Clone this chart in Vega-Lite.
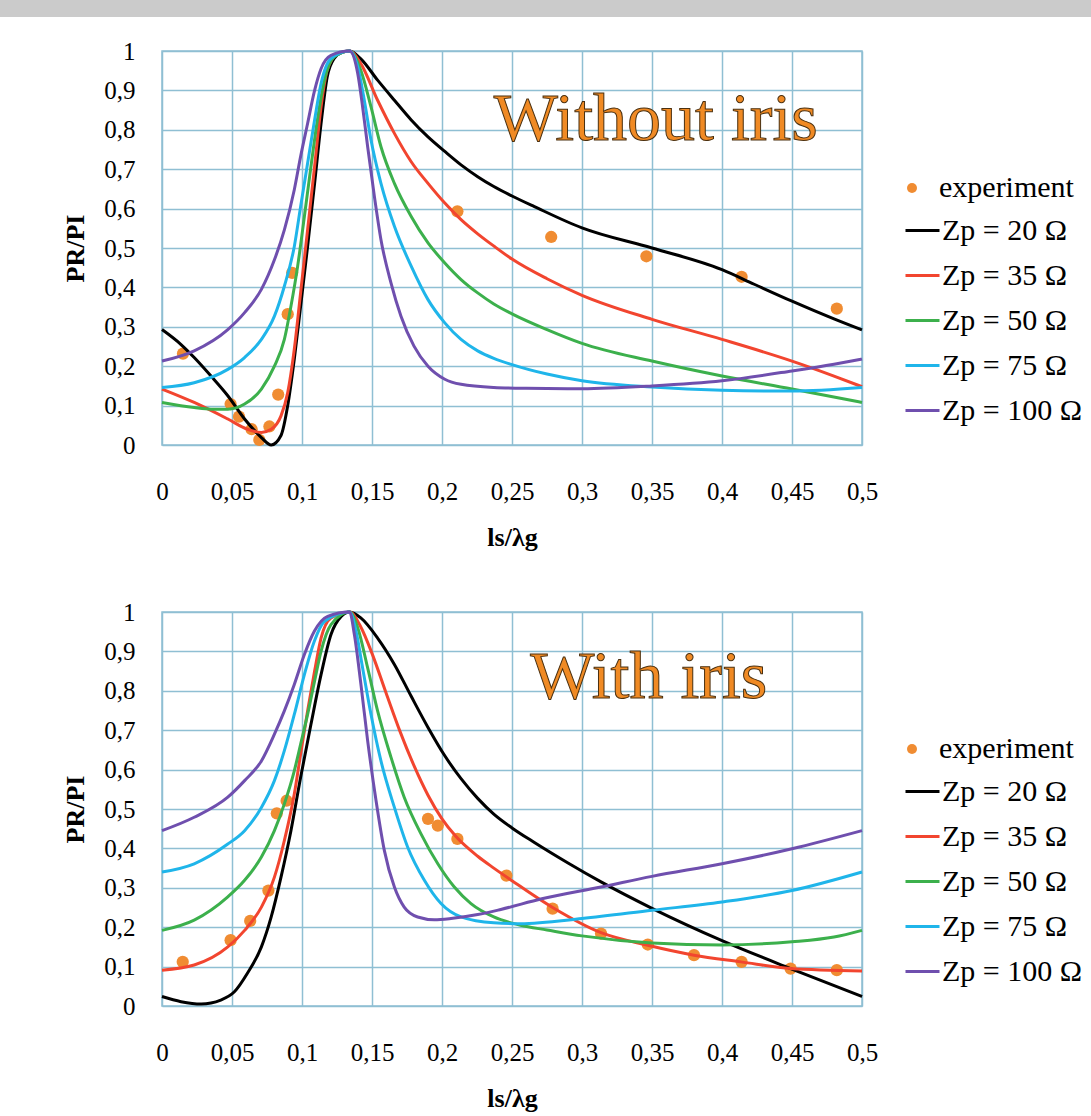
{
  "$schema": "https://vega.github.io/schema/vega-lite/v6.json",
  "padding": 0,
  "background": "white",
  "config": {
    "font": "Liberation Serif",
    "view": {"stroke": "#8fbfd3", "strokeWidth": 1.5},
    "axis": {"domain": false, "ticks": false, "grid": true, "gridColor": "#8fbfd3", "gridWidth": 1.5, "gridOpacity": 1, "labelFont": "Liberation Serif", "labelFontSize": 25, "labelColor": "#000000", "titleFont": "Liberation Serif", "titleFontSize": 26, "titleFontWeight": "bold", "titleColor": "#000000"},
    "legend": {"labelFont": "Liberation Serif", "labelFontSize": 30, "labelColor": "#000000", "padding": 0, "offset": 0}
  },
  "datasets": {
    "topExp": [
      {"x": 0.015, "y": 0.232}, {"x": 0.049, "y": 0.104}, {"x": 0.055, "y": 0.072}, {"x": 0.064, "y": 0.04}, {"x": 0.0695, "y": 0.013}, {"x": 0.0767, "y": 0.047}, {"x": 0.083, "y": 0.128}, {"x": 0.0898, "y": 0.332}, {"x": 0.093, "y": 0.437}, {"x": 0.211, "y": 0.593}, {"x": 0.278, "y": 0.528}, {"x": 0.346, "y": 0.479}, {"x": 0.414, "y": 0.427}, {"x": 0.482, "y": 0.346}
    ],
    "botExp": [
      {"x": 0.0148, "y": 0.112}, {"x": 0.049, "y": 0.167}, {"x": 0.063, "y": 0.216}, {"x": 0.076, "y": 0.293}, {"x": 0.082, "y": 0.489}, {"x": 0.089, "y": 0.521}, {"x": 0.19, "y": 0.475}, {"x": 0.197, "y": 0.458}, {"x": 0.211, "y": 0.424}, {"x": 0.246, "y": 0.331}, {"x": 0.279, "y": 0.247}, {"x": 0.3136, "y": 0.184}, {"x": 0.347, "y": 0.156}, {"x": 0.38, "y": 0.129}, {"x": 0.414, "y": 0.112}, {"x": 0.449, "y": 0.095}, {"x": 0.482, "y": 0.091}
    ],
    "topLines": [
      {"s": "Zp = 20 Ω", "x": 0, "y": 0.293}, {"s": "Zp = 20 Ω", "x": 0.0136, "y": 0.255}, {"s": "Zp = 20 Ω", "x": 0.023, "y": 0.222}, {"s": "Zp = 20 Ω", "x": 0.035, "y": 0.175}, {"s": "Zp = 20 Ω", "x": 0.047, "y": 0.125}, {"s": "Zp = 20 Ω", "x": 0.059, "y": 0.066}, {"s": "Zp = 20 Ω", "x": 0.071, "y": 0.019}, {"s": "Zp = 20 Ω", "x": 0.078, "y": 0.0}, {"s": "Zp = 20 Ω", "x": 0.085, "y": 0.024}, {"s": "Zp = 20 Ω", "x": 0.0898, "y": 0.1}, {"s": "Zp = 20 Ω", "x": 0.0945, "y": 0.218}, {"s": "Zp = 20 Ω", "x": 0.099, "y": 0.352}, {"s": "Zp = 20 Ω", "x": 0.104, "y": 0.504}, {"s": "Zp = 20 Ω", "x": 0.109, "y": 0.664}, {"s": "Zp = 20 Ω", "x": 0.1136, "y": 0.816}, {"s": "Zp = 20 Ω", "x": 0.118, "y": 0.934}, {"s": "Zp = 20 Ω", "x": 0.123, "y": 0.981}, {"s": "Zp = 20 Ω", "x": 0.129, "y": 0.997}, {"s": "Zp = 20 Ω", "x": 0.134, "y": 1.0}, {"s": "Zp = 20 Ω", "x": 0.142, "y": 0.98}, {"s": "Zp = 20 Ω", "x": 0.154, "y": 0.926}, {"s": "Zp = 20 Ω", "x": 0.166, "y": 0.875}, {"s": "Zp = 20 Ω", "x": 0.178, "y": 0.825}, {"s": "Zp = 20 Ω", "x": 0.19, "y": 0.782}, {"s": "Zp = 20 Ω", "x": 0.202, "y": 0.745}, {"s": "Zp = 20 Ω", "x": 0.2136, "y": 0.711}, {"s": "Zp = 20 Ω", "x": 0.2255, "y": 0.681}, {"s": "Zp = 20 Ω", "x": 0.237, "y": 0.656}, {"s": "Zp = 20 Ω", "x": 0.25, "y": 0.632}, {"s": "Zp = 20 Ω", "x": 0.266, "y": 0.605}, {"s": "Zp = 20 Ω", "x": 0.3, "y": 0.551}, {"s": "Zp = 20 Ω", "x": 0.35, "y": 0.5}, {"s": "Zp = 20 Ω", "x": 0.4, "y": 0.445}, {"s": "Zp = 20 Ω", "x": 0.423, "y": 0.408}, {"s": "Zp = 20 Ω", "x": 0.45, "y": 0.365}, {"s": "Zp = 20 Ω", "x": 0.48, "y": 0.32}, {"s": "Zp = 20 Ω", "x": 0.5, "y": 0.292},
      {"s": "Zp = 35 Ω", "x": 0, "y": 0.142}, {"s": "Zp = 35 Ω", "x": 0.023, "y": 0.108}, {"s": "Zp = 35 Ω", "x": 0.047, "y": 0.066}, {"s": "Zp = 35 Ω", "x": 0.061, "y": 0.04}, {"s": "Zp = 35 Ω", "x": 0.071, "y": 0.032}, {"s": "Zp = 35 Ω", "x": 0.078, "y": 0.04}, {"s": "Zp = 35 Ω", "x": 0.085, "y": 0.074}, {"s": "Zp = 35 Ω", "x": 0.0898, "y": 0.133}, {"s": "Zp = 35 Ω", "x": 0.0945, "y": 0.243}, {"s": "Zp = 35 Ω", "x": 0.099, "y": 0.386}, {"s": "Zp = 35 Ω", "x": 0.104, "y": 0.546}, {"s": "Zp = 35 Ω", "x": 0.109, "y": 0.707}, {"s": "Zp = 35 Ω", "x": 0.1136, "y": 0.858}, {"s": "Zp = 35 Ω", "x": 0.118, "y": 0.951}, {"s": "Zp = 35 Ω", "x": 0.1255, "y": 0.993}, {"s": "Zp = 35 Ω", "x": 0.134, "y": 1.0}, {"s": "Zp = 35 Ω", "x": 0.142, "y": 0.968}, {"s": "Zp = 35 Ω", "x": 0.154, "y": 0.875}, {"s": "Zp = 35 Ω", "x": 0.166, "y": 0.791}, {"s": "Zp = 35 Ω", "x": 0.178, "y": 0.719}, {"s": "Zp = 35 Ω", "x": 0.19, "y": 0.664}, {"s": "Zp = 35 Ω", "x": 0.202, "y": 0.614}, {"s": "Zp = 35 Ω", "x": 0.2136, "y": 0.572}, {"s": "Zp = 35 Ω", "x": 0.2255, "y": 0.536}, {"s": "Zp = 35 Ω", "x": 0.237, "y": 0.505}, {"s": "Zp = 35 Ω", "x": 0.25, "y": 0.472}, {"s": "Zp = 35 Ω", "x": 0.275, "y": 0.422}, {"s": "Zp = 35 Ω", "x": 0.3, "y": 0.38}, {"s": "Zp = 35 Ω", "x": 0.35, "y": 0.319}, {"s": "Zp = 35 Ω", "x": 0.4, "y": 0.268}, {"s": "Zp = 35 Ω", "x": 0.45, "y": 0.213}, {"s": "Zp = 35 Ω", "x": 0.48, "y": 0.175}, {"s": "Zp = 35 Ω", "x": 0.5, "y": 0.148},
      {"s": "Zp = 50 Ω", "x": 0, "y": 0.108}, {"s": "Zp = 50 Ω", "x": 0.023, "y": 0.095}, {"s": "Zp = 50 Ω", "x": 0.035, "y": 0.091}, {"s": "Zp = 50 Ω", "x": 0.047, "y": 0.091}, {"s": "Zp = 50 Ω", "x": 0.059, "y": 0.104}, {"s": "Zp = 50 Ω", "x": 0.071, "y": 0.142}, {"s": "Zp = 50 Ω", "x": 0.0803, "y": 0.2}, {"s": "Zp = 50 Ω", "x": 0.0874, "y": 0.268}, {"s": "Zp = 50 Ω", "x": 0.0921, "y": 0.352}, {"s": "Zp = 50 Ω", "x": 0.0969, "y": 0.454}, {"s": "Zp = 50 Ω", "x": 0.1017, "y": 0.58}, {"s": "Zp = 50 Ω", "x": 0.1064, "y": 0.707}, {"s": "Zp = 50 Ω", "x": 0.111, "y": 0.825}, {"s": "Zp = 50 Ω", "x": 0.116, "y": 0.926}, {"s": "Zp = 50 Ω", "x": 0.123, "y": 0.985}, {"s": "Zp = 50 Ω", "x": 0.134, "y": 1.0}, {"s": "Zp = 50 Ω", "x": 0.142, "y": 0.951}, {"s": "Zp = 50 Ω", "x": 0.1493, "y": 0.858}, {"s": "Zp = 50 Ω", "x": 0.1564, "y": 0.757}, {"s": "Zp = 50 Ω", "x": 0.166, "y": 0.664}, {"s": "Zp = 50 Ω", "x": 0.178, "y": 0.58}, {"s": "Zp = 50 Ω", "x": 0.19, "y": 0.513}, {"s": "Zp = 50 Ω", "x": 0.202, "y": 0.462}, {"s": "Zp = 50 Ω", "x": 0.2136, "y": 0.42}, {"s": "Zp = 50 Ω", "x": 0.2255, "y": 0.386}, {"s": "Zp = 50 Ω", "x": 0.237, "y": 0.358}, {"s": "Zp = 50 Ω", "x": 0.25, "y": 0.333}, {"s": "Zp = 50 Ω", "x": 0.275, "y": 0.293}, {"s": "Zp = 50 Ω", "x": 0.3, "y": 0.258}, {"s": "Zp = 50 Ω", "x": 0.35, "y": 0.213}, {"s": "Zp = 50 Ω", "x": 0.4, "y": 0.175}, {"s": "Zp = 50 Ω", "x": 0.45, "y": 0.142}, {"s": "Zp = 50 Ω", "x": 0.5, "y": 0.108},
      {"s": "Zp = 75 Ω", "x": 0, "y": 0.146}, {"s": "Zp = 75 Ω", "x": 0.023, "y": 0.158}, {"s": "Zp = 75 Ω", "x": 0.047, "y": 0.192}, {"s": "Zp = 75 Ω", "x": 0.059, "y": 0.222}, {"s": "Zp = 75 Ω", "x": 0.071, "y": 0.268}, {"s": "Zp = 75 Ω", "x": 0.0803, "y": 0.327}, {"s": "Zp = 75 Ω", "x": 0.0874, "y": 0.403}, {"s": "Zp = 75 Ω", "x": 0.0945, "y": 0.504}, {"s": "Zp = 75 Ω", "x": 0.099, "y": 0.605}, {"s": "Zp = 75 Ω", "x": 0.104, "y": 0.715}, {"s": "Zp = 75 Ω", "x": 0.109, "y": 0.825}, {"s": "Zp = 75 Ω", "x": 0.1136, "y": 0.917}, {"s": "Zp = 75 Ω", "x": 0.1207, "y": 0.981}, {"s": "Zp = 75 Ω", "x": 0.134, "y": 1.0}, {"s": "Zp = 75 Ω", "x": 0.1398, "y": 0.96}, {"s": "Zp = 75 Ω", "x": 0.1445, "y": 0.875}, {"s": "Zp = 75 Ω", "x": 0.1493, "y": 0.774}, {"s": "Zp = 75 Ω", "x": 0.1564, "y": 0.664}, {"s": "Zp = 75 Ω", "x": 0.166, "y": 0.555}, {"s": "Zp = 75 Ω", "x": 0.178, "y": 0.454}, {"s": "Zp = 75 Ω", "x": 0.19, "y": 0.369}, {"s": "Zp = 75 Ω", "x": 0.202, "y": 0.31}, {"s": "Zp = 75 Ω", "x": 0.2136, "y": 0.268}, {"s": "Zp = 75 Ω", "x": 0.2255, "y": 0.239}, {"s": "Zp = 75 Ω", "x": 0.237, "y": 0.22}, {"s": "Zp = 75 Ω", "x": 0.25, "y": 0.204}, {"s": "Zp = 75 Ω", "x": 0.275, "y": 0.18}, {"s": "Zp = 75 Ω", "x": 0.3, "y": 0.163}, {"s": "Zp = 75 Ω", "x": 0.35, "y": 0.147}, {"s": "Zp = 75 Ω", "x": 0.4, "y": 0.139}, {"s": "Zp = 75 Ω", "x": 0.45, "y": 0.137}, {"s": "Zp = 75 Ω", "x": 0.5, "y": 0.146},
      {"s": "Zp = 100 Ω", "x": 0, "y": 0.213}, {"s": "Zp = 100 Ω", "x": 0.023, "y": 0.239}, {"s": "Zp = 100 Ω", "x": 0.047, "y": 0.293}, {"s": "Zp = 100 Ω", "x": 0.059, "y": 0.336}, {"s": "Zp = 100 Ω", "x": 0.071, "y": 0.395}, {"s": "Zp = 100 Ω", "x": 0.0803, "y": 0.47}, {"s": "Zp = 100 Ω", "x": 0.0874, "y": 0.546}, {"s": "Zp = 100 Ω", "x": 0.0945, "y": 0.648}, {"s": "Zp = 100 Ω", "x": 0.099, "y": 0.732}, {"s": "Zp = 100 Ω", "x": 0.104, "y": 0.816}, {"s": "Zp = 100 Ω", "x": 0.109, "y": 0.9}, {"s": "Zp = 100 Ω", "x": 0.1136, "y": 0.955}, {"s": "Zp = 100 Ω", "x": 0.1207, "y": 0.989}, {"s": "Zp = 100 Ω", "x": 0.134, "y": 1.0}, {"s": "Zp = 100 Ω", "x": 0.1398, "y": 0.943}, {"s": "Zp = 100 Ω", "x": 0.1433, "y": 0.858}, {"s": "Zp = 100 Ω", "x": 0.1469, "y": 0.757}, {"s": "Zp = 100 Ω", "x": 0.1517, "y": 0.631}, {"s": "Zp = 100 Ω", "x": 0.1564, "y": 0.521}, {"s": "Zp = 100 Ω", "x": 0.1636, "y": 0.411}, {"s": "Zp = 100 Ω", "x": 0.1707, "y": 0.327}, {"s": "Zp = 100 Ω", "x": 0.18, "y": 0.251}, {"s": "Zp = 100 Ω", "x": 0.19, "y": 0.2}, {"s": "Zp = 100 Ω", "x": 0.202, "y": 0.167}, {"s": "Zp = 100 Ω", "x": 0.2136, "y": 0.154}, {"s": "Zp = 100 Ω", "x": 0.237, "y": 0.146}, {"s": "Zp = 100 Ω", "x": 0.26, "y": 0.144}, {"s": "Zp = 100 Ω", "x": 0.3, "y": 0.143}, {"s": "Zp = 100 Ω", "x": 0.35, "y": 0.15}, {"s": "Zp = 100 Ω", "x": 0.4, "y": 0.163}, {"s": "Zp = 100 Ω", "x": 0.45, "y": 0.188}, {"s": "Zp = 100 Ω", "x": 0.48, "y": 0.205}, {"s": "Zp = 100 Ω", "x": 0.5, "y": 0.218}
    ],
    "botLines": [
      {"s": "Zp = 20 Ω", "x": 0, "y": 0.024}, {"s": "Zp = 20 Ω", "x": 0.0136, "y": 0.011}, {"s": "Zp = 20 Ω", "x": 0.028, "y": 0.005}, {"s": "Zp = 20 Ω", "x": 0.042, "y": 0.015}, {"s": "Zp = 20 Ω", "x": 0.0517, "y": 0.036}, {"s": "Zp = 20 Ω", "x": 0.061, "y": 0.083}, {"s": "Zp = 20 Ω", "x": 0.071, "y": 0.15}, {"s": "Zp = 20 Ω", "x": 0.078, "y": 0.226}, {"s": "Zp = 20 Ω", "x": 0.085, "y": 0.327}, {"s": "Zp = 20 Ω", "x": 0.0921, "y": 0.445}, {"s": "Zp = 20 Ω", "x": 0.099, "y": 0.58}, {"s": "Zp = 20 Ω", "x": 0.1064, "y": 0.715}, {"s": "Zp = 20 Ω", "x": 0.1136, "y": 0.841}, {"s": "Zp = 20 Ω", "x": 0.1207, "y": 0.943}, {"s": "Zp = 20 Ω", "x": 0.128, "y": 0.989}, {"s": "Zp = 20 Ω", "x": 0.134, "y": 1.0}, {"s": "Zp = 20 Ω", "x": 0.142, "y": 0.985}, {"s": "Zp = 20 Ω", "x": 0.154, "y": 0.934}, {"s": "Zp = 20 Ω", "x": 0.166, "y": 0.867}, {"s": "Zp = 20 Ω", "x": 0.178, "y": 0.786}, {"s": "Zp = 20 Ω", "x": 0.19, "y": 0.707}, {"s": "Zp = 20 Ω", "x": 0.202, "y": 0.635}, {"s": "Zp = 20 Ω", "x": 0.2136, "y": 0.577}, {"s": "Zp = 20 Ω", "x": 0.2255, "y": 0.527}, {"s": "Zp = 20 Ω", "x": 0.237, "y": 0.487}, {"s": "Zp = 20 Ω", "x": 0.25, "y": 0.452}, {"s": "Zp = 20 Ω", "x": 0.266, "y": 0.415}, {"s": "Zp = 20 Ω", "x": 0.29, "y": 0.363}, {"s": "Zp = 20 Ω", "x": 0.3136, "y": 0.315}, {"s": "Zp = 20 Ω", "x": 0.35, "y": 0.248}, {"s": "Zp = 20 Ω", "x": 0.4, "y": 0.166}, {"s": "Zp = 20 Ω", "x": 0.449, "y": 0.095}, {"s": "Zp = 20 Ω", "x": 0.5, "y": 0.024},
      {"s": "Zp = 35 Ω", "x": 0, "y": 0.091}, {"s": "Zp = 35 Ω", "x": 0.023, "y": 0.104}, {"s": "Zp = 35 Ω", "x": 0.047, "y": 0.15}, {"s": "Zp = 35 Ω", "x": 0.059, "y": 0.192}, {"s": "Zp = 35 Ω", "x": 0.071, "y": 0.251}, {"s": "Zp = 35 Ω", "x": 0.0803, "y": 0.327}, {"s": "Zp = 35 Ω", "x": 0.0874, "y": 0.42}, {"s": "Zp = 35 Ω", "x": 0.0945, "y": 0.538}, {"s": "Zp = 35 Ω", "x": 0.099, "y": 0.639}, {"s": "Zp = 35 Ω", "x": 0.104, "y": 0.749}, {"s": "Zp = 35 Ω", "x": 0.109, "y": 0.85}, {"s": "Zp = 35 Ω", "x": 0.1136, "y": 0.934}, {"s": "Zp = 35 Ω", "x": 0.1207, "y": 0.985}, {"s": "Zp = 35 Ω", "x": 0.134, "y": 1.0}, {"s": "Zp = 35 Ω", "x": 0.142, "y": 0.962}, {"s": "Zp = 35 Ω", "x": 0.15, "y": 0.895}, {"s": "Zp = 35 Ω", "x": 0.16, "y": 0.795}, {"s": "Zp = 35 Ω", "x": 0.17, "y": 0.697}, {"s": "Zp = 35 Ω", "x": 0.18, "y": 0.61}, {"s": "Zp = 35 Ω", "x": 0.19, "y": 0.535}, {"s": "Zp = 35 Ω", "x": 0.2, "y": 0.475}, {"s": "Zp = 35 Ω", "x": 0.21, "y": 0.43}, {"s": "Zp = 35 Ω", "x": 0.2255, "y": 0.38}, {"s": "Zp = 35 Ω", "x": 0.237, "y": 0.35}, {"s": "Zp = 35 Ω", "x": 0.25, "y": 0.318}, {"s": "Zp = 35 Ω", "x": 0.279, "y": 0.25}, {"s": "Zp = 35 Ω", "x": 0.3136, "y": 0.186}, {"s": "Zp = 35 Ω", "x": 0.347, "y": 0.154}, {"s": "Zp = 35 Ω", "x": 0.38, "y": 0.129}, {"s": "Zp = 35 Ω", "x": 0.4136, "y": 0.112}, {"s": "Zp = 35 Ω", "x": 0.449, "y": 0.095}, {"s": "Zp = 35 Ω", "x": 0.5, "y": 0.089},
      {"s": "Zp = 50 Ω", "x": 0, "y": 0.192}, {"s": "Zp = 50 Ω", "x": 0.023, "y": 0.218}, {"s": "Zp = 50 Ω", "x": 0.047, "y": 0.277}, {"s": "Zp = 50 Ω", "x": 0.059, "y": 0.319}, {"s": "Zp = 50 Ω", "x": 0.071, "y": 0.378}, {"s": "Zp = 50 Ω", "x": 0.0803, "y": 0.445}, {"s": "Zp = 50 Ω", "x": 0.0874, "y": 0.513}, {"s": "Zp = 50 Ω", "x": 0.0945, "y": 0.597}, {"s": "Zp = 50 Ω", "x": 0.099, "y": 0.664}, {"s": "Zp = 50 Ω", "x": 0.104, "y": 0.74}, {"s": "Zp = 50 Ω", "x": 0.109, "y": 0.825}, {"s": "Zp = 50 Ω", "x": 0.1136, "y": 0.9}, {"s": "Zp = 50 Ω", "x": 0.1207, "y": 0.968}, {"s": "Zp = 50 Ω", "x": 0.134, "y": 1.0}, {"s": "Zp = 50 Ω", "x": 0.1398, "y": 0.96}, {"s": "Zp = 50 Ω", "x": 0.1469, "y": 0.858}, {"s": "Zp = 50 Ω", "x": 0.154, "y": 0.749}, {"s": "Zp = 50 Ω", "x": 0.1636, "y": 0.631}, {"s": "Zp = 50 Ω", "x": 0.173, "y": 0.53}, {"s": "Zp = 50 Ω", "x": 0.185, "y": 0.437}, {"s": "Zp = 50 Ω", "x": 0.197, "y": 0.361}, {"s": "Zp = 50 Ω", "x": 0.2088, "y": 0.302}, {"s": "Zp = 50 Ω", "x": 0.2207, "y": 0.26}, {"s": "Zp = 50 Ω", "x": 0.237, "y": 0.226}, {"s": "Zp = 50 Ω", "x": 0.256, "y": 0.205}, {"s": "Zp = 50 Ω", "x": 0.275, "y": 0.193}, {"s": "Zp = 50 Ω", "x": 0.3, "y": 0.178}, {"s": "Zp = 50 Ω", "x": 0.35, "y": 0.16}, {"s": "Zp = 50 Ω", "x": 0.4, "y": 0.155}, {"s": "Zp = 50 Ω", "x": 0.45, "y": 0.163}, {"s": "Zp = 50 Ω", "x": 0.48, "y": 0.175}, {"s": "Zp = 50 Ω", "x": 0.5, "y": 0.192},
      {"s": "Zp = 75 Ω", "x": 0, "y": 0.34}, {"s": "Zp = 75 Ω", "x": 0.023, "y": 0.361}, {"s": "Zp = 75 Ω", "x": 0.047, "y": 0.411}, {"s": "Zp = 75 Ω", "x": 0.059, "y": 0.445}, {"s": "Zp = 75 Ω", "x": 0.071, "y": 0.504}, {"s": "Zp = 75 Ω", "x": 0.0803, "y": 0.572}, {"s": "Zp = 75 Ω", "x": 0.0874, "y": 0.648}, {"s": "Zp = 75 Ω", "x": 0.0945, "y": 0.74}, {"s": "Zp = 75 Ω", "x": 0.1017, "y": 0.841}, {"s": "Zp = 75 Ω", "x": 0.1088, "y": 0.926}, {"s": "Zp = 75 Ω", "x": 0.116, "y": 0.976}, {"s": "Zp = 75 Ω", "x": 0.134, "y": 1.0}, {"s": "Zp = 75 Ω", "x": 0.1386, "y": 0.951}, {"s": "Zp = 75 Ω", "x": 0.1433, "y": 0.858}, {"s": "Zp = 75 Ω", "x": 0.1493, "y": 0.74}, {"s": "Zp = 75 Ω", "x": 0.1564, "y": 0.622}, {"s": "Zp = 75 Ω", "x": 0.166, "y": 0.504}, {"s": "Zp = 75 Ω", "x": 0.1755, "y": 0.403}, {"s": "Zp = 75 Ω", "x": 0.1874, "y": 0.319}, {"s": "Zp = 75 Ω", "x": 0.1993, "y": 0.26}, {"s": "Zp = 75 Ω", "x": 0.2136, "y": 0.226}, {"s": "Zp = 75 Ω", "x": 0.237, "y": 0.211}, {"s": "Zp = 75 Ω", "x": 0.256, "y": 0.209}, {"s": "Zp = 75 Ω", "x": 0.3, "y": 0.222}, {"s": "Zp = 75 Ω", "x": 0.35, "y": 0.243}, {"s": "Zp = 75 Ω", "x": 0.4, "y": 0.264}, {"s": "Zp = 75 Ω", "x": 0.45, "y": 0.293}, {"s": "Zp = 75 Ω", "x": 0.5, "y": 0.34},
      {"s": "Zp = 100 Ω", "x": 0, "y": 0.445}, {"s": "Zp = 100 Ω", "x": 0.023, "y": 0.479}, {"s": "Zp = 100 Ω", "x": 0.047, "y": 0.53}, {"s": "Zp = 100 Ω", "x": 0.059, "y": 0.572}, {"s": "Zp = 100 Ω", "x": 0.071, "y": 0.622}, {"s": "Zp = 100 Ω", "x": 0.0803, "y": 0.69}, {"s": "Zp = 100 Ω", "x": 0.0874, "y": 0.749}, {"s": "Zp = 100 Ω", "x": 0.0945, "y": 0.816}, {"s": "Zp = 100 Ω", "x": 0.1017, "y": 0.892}, {"s": "Zp = 100 Ω", "x": 0.1088, "y": 0.951}, {"s": "Zp = 100 Ω", "x": 0.1183, "y": 0.989}, {"s": "Zp = 100 Ω", "x": 0.134, "y": 1.0}, {"s": "Zp = 100 Ω", "x": 0.1374, "y": 0.943}, {"s": "Zp = 100 Ω", "x": 0.1421, "y": 0.816}, {"s": "Zp = 100 Ω", "x": 0.1469, "y": 0.673}, {"s": "Zp = 100 Ω", "x": 0.1529, "y": 0.521}, {"s": "Zp = 100 Ω", "x": 0.1588, "y": 0.395}, {"s": "Zp = 100 Ω", "x": 0.166, "y": 0.302}, {"s": "Zp = 100 Ω", "x": 0.173, "y": 0.251}, {"s": "Zp = 100 Ω", "x": 0.1826, "y": 0.226}, {"s": "Zp = 100 Ω", "x": 0.1945, "y": 0.219}, {"s": "Zp = 100 Ω", "x": 0.2064, "y": 0.222}, {"s": "Zp = 100 Ω", "x": 0.2255, "y": 0.232}, {"s": "Zp = 100 Ω", "x": 0.242, "y": 0.245}, {"s": "Zp = 100 Ω", "x": 0.2713, "y": 0.272}, {"s": "Zp = 100 Ω", "x": 0.3136, "y": 0.302}, {"s": "Zp = 100 Ω", "x": 0.35, "y": 0.329}, {"s": "Zp = 100 Ω", "x": 0.4, "y": 0.361}, {"s": "Zp = 100 Ω", "x": 0.45, "y": 0.399}, {"s": "Zp = 100 Ω", "x": 0.5, "y": 0.445}
    ]
  },
  "spacing": 21,
  "vconcat": [
    {
      "width": 1091, "height": 17,
      "view": {"fill": "#cbcbcb", "stroke": null},
      "data": {"values": [{"t": ""}]},
      "mark": {"type": "text"},
      "encoding": {"text": {"field": "t"}}
    },
    {
      "spacing": 0,
      "hconcat": [
        {
          "width": 62, "height": 10,
          "view": {"stroke": null},
          "data": {"values": [{"t": ""}]},
          "mark": {"type": "text"},
          "encoding": {"text": {"field": "t"}}
        },
        {
          "spacing": 48,
          "resolve": {"scale": {"color": "independent", "fill": "independent"}, "legend": {"color": "independent", "fill": "independent"}},
          "vconcat": [
            {
              "width": 700, "height": 394,
              "encoding": {
                "x": {"field": "x", "type": "quantitative", "scale": {"domain": [0, 0.5], "nice": false, "zero": false}, "axis": {"values": [0, 0.05, 0.1, 0.15, 0.2, 0.25, 0.3, 0.35, 0.4, 0.45, 0.5], "labelExpr": "replace(format(datum.value, '~g'), '.', ',')", "labelFlush": false, "labelOverlap": false, "labelPadding": 34, "title": "ls/λg", "titlePadding": 20}},
                "y": {"field": "y", "type": "quantitative", "scale": {"domain": [0, 1], "nice": false}, "axis": {"values": [0, 0.1, 0.2, 0.3, 0.4, 0.5, 0.6, 0.7, 0.8, 0.9, 1], "labelExpr": "replace(format(datum.value, '~g'), '.', ',')", "labelPadding": 27, "title": "PR/PI", "titlePadding": 15}}
              },
              "layer": [
                {
                  "data": {"name": "topExp"},
                  "mark": {"type": "point", "filled": true, "shape": "circle", "size": 150, "opacity": 1},
                  "encoding": {"fill": {"datum": "experiment", "type": "nominal", "scale": {"domain": ["experiment"], "range": ["#f08c32"]}, "legend": {"orient": "none", "legendX": 735, "legendY": 122, "title": null, "symbolSize": 100, "symbolType": "circle", "symbolStrokeWidth": 0, "labelOffset": 12}}}
                },
                {
                  "data": {"name": "topLines"},
                  "mark": {"type": "line", "interpolate": "monotone", "strokeWidth": 3},
                  "encoding": {"color": {"field": "s", "type": "nominal", "scale": {"domain": ["Zp = 20 Ω", "Zp = 35 Ω", "Zp = 50 Ω", "Zp = 75 Ω", "Zp = 100 Ω"], "range": ["#000000", "#f2452f", "#3cb04c", "#1fb5ea", "#6f4fae"]}, "legend": {"orient": "none", "legendX": 742, "legendY": 161, "title": null, "symbolSize": 1156, "symbolStrokeWidth": 3, "labelOffset": 1, "rowPadding": 11}}}
                },
                {
                  "data": {"values": [{"x": 0.237, "y": 0.775, "t": "Without iris"}]},
                  "mark": {"type": "text", "align": "left", "baseline": "alphabetic", "font": "Liberation Serif", "fontSize": 68, "fill": "#f08a24", "stroke": "#4a3010", "strokeWidth": 1},
                  "encoding": {"text": {"field": "t"}}
                }
              ]
            },
            {
              "width": 700, "height": 394,
              "encoding": {
                "x": {"field": "x", "type": "quantitative", "scale": {"domain": [0, 0.5], "nice": false, "zero": false}, "axis": {"values": [0, 0.05, 0.1, 0.15, 0.2, 0.25, 0.3, 0.35, 0.4, 0.45, 0.5], "labelExpr": "replace(format(datum.value, '~g'), '.', ',')", "labelFlush": false, "labelOverlap": false, "labelPadding": 34, "title": "ls/λg", "titlePadding": 20}},
                "y": {"field": "y", "type": "quantitative", "scale": {"domain": [0, 1], "nice": false}, "axis": {"values": [0, 0.1, 0.2, 0.3, 0.4, 0.5, 0.6, 0.7, 0.8, 0.9, 1], "labelExpr": "replace(format(datum.value, '~g'), '.', ',')", "labelPadding": 27, "title": "PR/PI", "titlePadding": 15}}
              },
              "layer": [
                {
                  "data": {"name": "botExp"},
                  "mark": {"type": "point", "filled": true, "shape": "circle", "size": 150, "opacity": 1},
                  "encoding": {"fill": {"datum": "experiment", "type": "nominal", "scale": {"domain": ["experiment"], "range": ["#f08c32"]}, "legend": {"orient": "none", "legendX": 735, "legendY": 122, "title": null, "symbolSize": 100, "symbolType": "circle", "symbolStrokeWidth": 0, "labelOffset": 12}}}
                },
                {
                  "data": {"name": "botLines"},
                  "mark": {"type": "line", "interpolate": "monotone", "strokeWidth": 3},
                  "encoding": {"color": {"field": "s", "type": "nominal", "scale": {"domain": ["Zp = 20 Ω", "Zp = 35 Ω", "Zp = 50 Ω", "Zp = 75 Ω", "Zp = 100 Ω"], "range": ["#000000", "#f2452f", "#3cb04c", "#1fb5ea", "#6f4fae"]}, "legend": {"orient": "none", "legendX": 742, "legendY": 161, "title": null, "symbolSize": 1156, "symbolStrokeWidth": 3, "labelOffset": 1, "rowPadding": 11}}}
                },
                {
                  "data": {"values": [{"x": 0.263, "y": 0.781, "t": "With iris"}]},
                  "mark": {"type": "text", "align": "left", "baseline": "alphabetic", "font": "Liberation Serif", "fontSize": 68, "fill": "#f08a24", "stroke": "#4a3010", "strokeWidth": 1},
                  "encoding": {"text": {"field": "t"}}
                }
              ]
            }
          ]
        }
      ]
    }
  ]
}
